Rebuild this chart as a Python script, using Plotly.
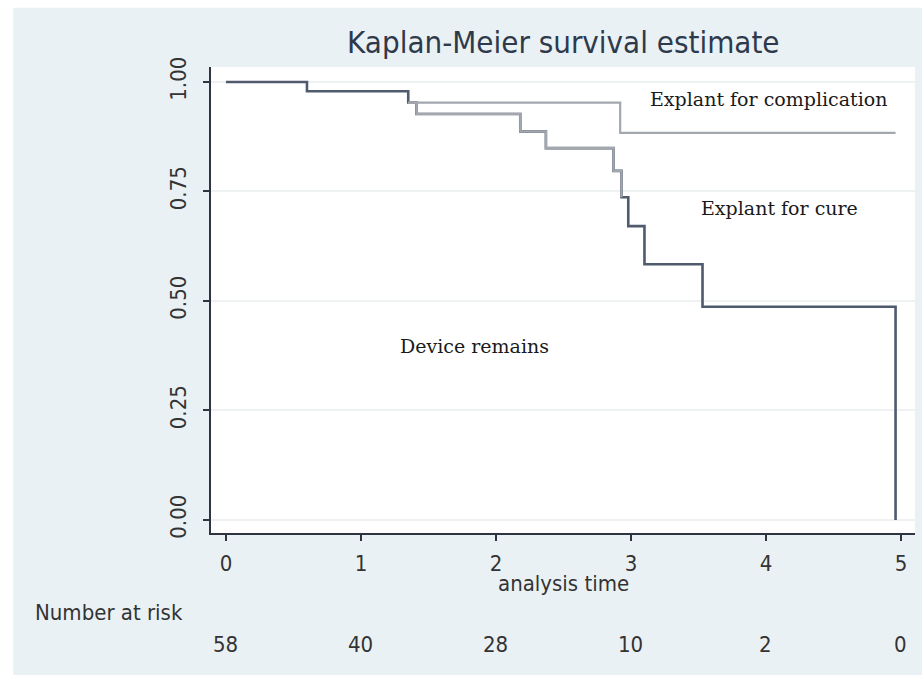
import plotly.graph_objects as go

# Step data (analysis time in years, survival probability)
comp_time = [0, 0.60, 1.35, 2.92, 4.96]
comp_surv = [1.0, 0.979, 0.953, 0.884, 0.884]

cure_time = [0, 0.60, 1.35, 1.41, 2.18, 2.37, 2.87, 2.93]
cure_surv = [1.0, 0.979, 0.953, 0.927, 0.887, 0.849, 0.797, 0.737]

dev_time = [0, 0.60, 1.35, 1.41, 2.18, 2.37, 2.87, 2.93, 2.98, 3.10, 3.53, 4.96]
dev_surv = [1.0, 0.979, 0.953, 0.927, 0.887, 0.849, 0.797, 0.737, 0.671, 0.584, 0.487, 0.0]

risk_times = [0, 1, 2, 3, 4, 5]
risk_counts = [58, 40, 28, 10, 2, 0]

x_ticks = [0, 1, 2, 3, 4, 5]
y_ticks = [0, 0.25, 0.5, 0.75, 1.0]
y_ticklabels = ["0.00", "0.25", "0.50", "0.75", "1.00"]

labels = [
    ("Explant for complication", 4.02, 0.962),
    ("Explant for cure", 4.10, 0.712),
    ("Device remains", 1.84, 0.398),
]

DARK = "#4f5a6d"
LIGHT = "#a3a7ae"
TXT = "#333333"
SANS = "DejaVu Sans Condensed, DejaVu Sans, sans-serif"
FS = 22

fig = go.Figure()
fig.add_trace(go.Scatter(x=dev_time, y=dev_surv, mode="lines",
                         line=dict(shape="hv", color=DARK, width=2.6),
                         hoverinfo="skip", showlegend=False))
fig.add_trace(go.Scatter(x=comp_time[2:], y=comp_surv[2:], mode="lines",
                         line=dict(shape="hv", color=LIGHT, width=2.2),
                         hoverinfo="skip", showlegend=False))
fig.add_trace(go.Scatter(x=cure_time[2:], y=cure_surv[2:], mode="lines",
                         line=dict(shape="hv", color=LIGHT, width=2.2),
                         hoverinfo="skip", showlegend=False))

for text, x, y in labels:
    fig.add_annotation(x=x, y=y, text=text, showarrow=False,
                       font=dict(family="DejaVu Serif, Liberation Serif, serif", size=19, color="#1a1a1a"))

fig.add_annotation(x=0.5, y=-0.1094, xref="paper", yref="paper", text="analysis time",
                   showarrow=False, yanchor="middle",
                   font=dict(family=SANS, size=FS, color=TXT))
fig.add_annotation(x=-0.253, y=-0.17, xref="paper", yref="paper", text="Number at risk",
                   showarrow=False, xanchor="left", yanchor="middle",
                   font=dict(family=SANS, size=FS, color=TXT))
for t, n in zip(risk_times, risk_counts):
    fig.add_annotation(x=t, y=-0.240, xref="x", yref="paper", text=str(n),
                       showarrow=False, yanchor="middle",
                       font=dict(family=SANS, size=FS, color=TXT))

# white strips at the top and left edge outside the grey panel
fig.add_shape(type="rect", xref="paper", yref="paper", x0=-0.40, x1=1.02, y0=1.127, y1=1.20,
              fillcolor="white", line_width=0, layer="below")
fig.add_shape(type="rect", xref="paper", yref="paper", x0=-0.40, x1=-0.281, y0=-0.40, y1=1.20,
              fillcolor="white", line_width=0, layer="below")

fig.update_layout(
    width=922, height=675,
    margin=dict(l=211, r=7, t=67, b=142),
    paper_bgcolor="#eaf1f4",
    plot_bgcolor="white",
    title=dict(text="Kaplan-Meier survival estimate", x=0.611, xanchor="center",
               y=1 - 42 / 675, yanchor="middle",
               font=dict(family=SANS, size=31, color="#2e3a4c")),
    xaxis=dict(range=[-0.111, 5.104], tickvals=x_ticks, showgrid=False, zeroline=False,
               showline=True, linecolor="#2f3440", linewidth=2,
               ticks="outside", ticklen=6, tickwidth=2, tickcolor="#2f3440",
               ticklabelstandoff=4,
               tickfont=dict(family=SANS, size=FS, color=TXT)),
    yaxis=dict(range=[-0.0297, 1.0342], tickvals=y_ticks, ticktext=y_ticklabels,
               showgrid=True, gridcolor="#eef2f3", gridwidth=1.5, zeroline=False,
               showline=True, linecolor="#2f3440", linewidth=2,
               ticks="outside", ticklen=6, tickwidth=2, tickcolor="#2f3440",
               tickangle=-90, ticklabelstandoff=8,
               tickfont=dict(family=SANS, size=FS, color=TXT)),
)

fig.write_html("out.html", config={"displayModeBar": False},
               post_script="document.body.style.margin='0';")
